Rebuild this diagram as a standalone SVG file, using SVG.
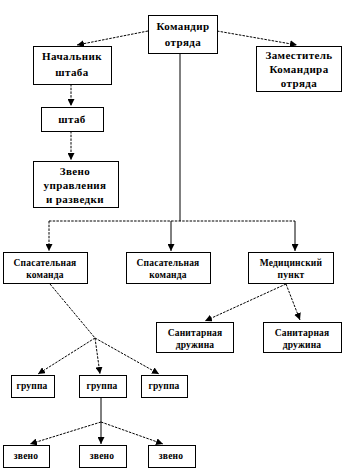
<svg xmlns="http://www.w3.org/2000/svg" width="356" height="471" viewBox="0 0 356 471">
<style>
.box{fill:#fff;stroke:#000;stroke-width:1}
.t{font-family:"Liberation Serif","Times New Roman",serif;font-weight:bold;font-size:11px;letter-spacing:0.4px;fill:#000;text-anchor:middle}
.s{font-size:9.5px;letter-spacing:0.2px}
.c{fill:none;stroke:#000;stroke-width:1}
.d{stroke-dasharray:2.5,1.2}
</style>
<defs>
<marker id="a" viewBox="0 0 8 8" refX="8" refY="4" markerWidth="7" markerHeight="7" markerUnits="userSpaceOnUse" orient="auto">
<path d="M0,0 L8,4 L0,8 z" fill="#000"/>
</marker>
</defs>
<rect width="356" height="471" fill="#fff"/>
<g id="connectors">
<path class="c d" d="M148,31 L77,45" marker-end="url(#a)"/>
<path class="c d" d="M217,31 L297,45" marker-end="url(#a)"/>
<path class="c" d="M180,53 L180,221"/>
<path class="c d" d="M71,84 L71,106" marker-end="url(#a)"/>
<path class="c d" d="M71,131 L71,160" marker-end="url(#a)"/>
<path class="c d" d="M49,221 L295,221"/>
<path class="c d" d="M49,221 L49,251" marker-end="url(#a)"/>
<path class="c" d="M171,221 L171,251" marker-end="url(#a)"/>
<path class="c" d="M295,221 L295,251" marker-end="url(#a)"/>
<path class="c d" d="M286,284 L205,321" marker-end="url(#a)"/>
<path class="c d" d="M286,284 L300,320" marker-end="url(#a)"/>
<path class="c d" d="M50,284 L95,338"/>
<path class="c d" d="M95,338 L38,374" marker-end="url(#a)"/>
<path class="c d" d="M95,338 L100,374" marker-end="url(#a)"/>
<path class="c d" d="M95,338 L159,374" marker-end="url(#a)"/>
<path class="c" d="M101,397 L101,422"/>
<path class="c" d="M101,422 L101,444" marker-end="url(#a)"/>
<path class="c d" d="M101,422 L30,444" marker-end="url(#a)"/>
<path class="c d" d="M101,422 L163,444" marker-end="url(#a)"/>
</g>
<g id="n1"><rect class="box" x="148.5" y="15.5" width="69" height="38"/><text class="t" x="183" y="30">Командир</text><text class="t" x="183" y="46">отряда</text></g>
<g id="n2"><rect class="box" x="33.5" y="46.5" width="78" height="38"/><text class="t" x="72" y="60">Начальник</text><text class="t" x="72" y="76">штаба</text></g>
<g id="n3"><rect class="box" x="256.5" y="46.5" width="85" height="45"/><text class="t" x="299" y="59">Заместитель</text><text class="t" x="299" y="73">Командира</text><text class="t" x="299" y="87">отряда</text></g>
<g id="n4"><rect class="box" x="41.5" y="107.5" width="62" height="24"/><text class="t" x="72" y="123">штаб</text></g>
<g id="n5"><rect class="box" x="33.5" y="161.5" width="85" height="46"/><text class="t" x="75" y="175">Звено</text><text class="t" x="75" y="189">управления</text><text class="t" x="75" y="203">и разведки</text></g>
<g id="n6"><rect class="box" x="3.5" y="252.5" width="84" height="31"/><text class="t s" x="45" y="266">Спасательная</text><text class="t s" x="45" y="278">команда</text></g>
<g id="n7"><rect class="box" x="126.5" y="252.5" width="84" height="31"/><text class="t s" x="168" y="266">Спасательная</text><text class="t s" x="168" y="278">команда</text></g>
<g id="n8"><rect class="box" x="248.5" y="252.5" width="85" height="31"/><text class="t s" x="291" y="266">Медицинский</text><text class="t s" x="291" y="278">пункт</text></g>
<g id="n9"><rect class="box" x="156.5" y="322.5" width="77" height="30"/><text class="t s" x="195" y="336">Санитарная</text><text class="t s" x="195" y="348">дружина</text></g>
<g id="n10"><rect class="box" x="263.5" y="322.5" width="78" height="30"/><text class="t s" x="302" y="336">Санитарная</text><text class="t s" x="302" y="348">дружина</text></g>
<g id="n11"><rect class="box" x="11.5" y="375.5" width="43" height="22"/><text class="t s" x="32" y="389">группа</text></g>
<g id="n12"><rect class="box" x="79.5" y="375.5" width="47" height="22"/><text class="t s" x="102" y="389">группа</text></g>
<g id="n13"><rect class="box" x="141.5" y="375.5" width="46" height="22"/><text class="t s" x="164" y="389">группа</text></g>
<g id="n14"><rect class="box" x="3.5" y="445.5" width="46" height="22"/><text class="t s" x="26" y="459">звено</text></g>
<g id="n15"><rect class="box" x="79.5" y="445.5" width="47" height="22"/><text class="t s" x="102" y="459">звено</text></g>
<g id="n16"><rect class="box" x="148.5" y="445.5" width="47" height="22"/><text class="t s" x="171" y="459">звено</text></g>
</svg>
